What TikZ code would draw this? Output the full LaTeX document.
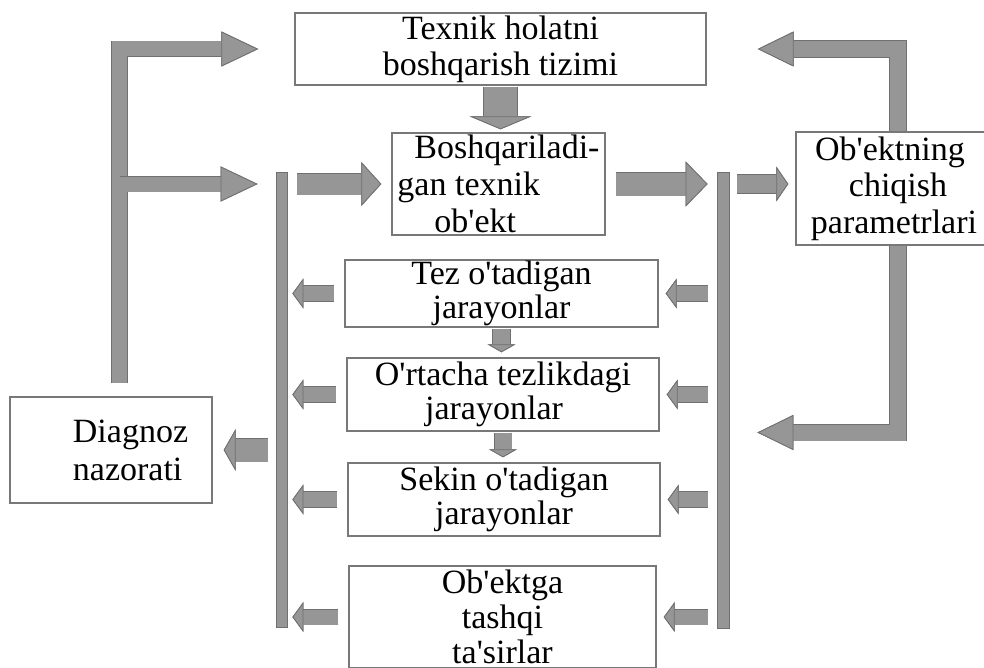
\documentclass[tikz,border=0pt]{standalone}
\usepackage{fontspec}
\setmainfont{Liberation Serif}[Ligatures=TeXOff]
\usetikzlibrary{arrows.meta, calc}
\definecolor{boxline}{RGB}{120,120,120}
\definecolor{arrowfill}{RGB}{150,150,150}
\definecolor{arrowline}{RGB}{112,112,112}

\begin{document}
\begin{tikzpicture}[x=0.75pt, y=-0.75pt,
   every node/.style={font=\fontsize{25.5}{27}\selectfont},
   box/.style={draw=boxline, line width=1.1pt, fill=white, inner sep=0pt, align=center},
   proc/.style={box, font=\fontsize{25.5}{25.5}\selectfont},
   bus/.style={draw=arrowline, line width=0.6pt, fill=arrowfill, inner sep=0pt},
   blk/.style n args={3}{arrowfill, line width=#1,
      preaction={draw=arrowline, line width=#1+1.2pt,
         -{Triangle[length=#2, width=#3, line width=0.6pt, color=arrowline, fill=arrowfill]}},
      -{Triangle[length=#2, width=#3, line width=0.6pt, color=arrowline, fill=arrowfill]}},
   side/.style={blk={11.25pt}{8.25pt}{22.5pt}}]

  \useasboundingbox[fill=white] (0,0) rectangle (984,667);

  % upper row
  \node[box, minimum width=308.25pt, minimum height=54pt] (ctrl) at (500.5,49)
       {Texnik holatni\\boshqarish tizimi};
  \node[box, minimum width=159.75pt, minimum height=76.5pt, align=left,
        font=\fontsize{25.5}{27.5}\selectfont] (object) at (498.5,184)
       {\hspace*{12.75pt}Boshqariladi-\\gan texnik\\\hspace*{27.75pt}ob'ekt};
  \node[box, minimum width=153pt, minimum height=84.75pt,
        font=\fontsize{25.5}{27.5}\selectfont] (output) at (898,188.5)
       {Ob'ektning\hspace*{12pt}\\chiqish\hspace*{12pt}\\parametrlari\hspace*{6pt}};

  % processes inside the object
  \node[proc, minimum width=234.75pt, minimum height=50.25pt] (fast) at (501.5,293.5)
       {Tez o'tadigan\\jarayonlar};
  \node[proc, minimum width=234pt, minimum height=54.75pt] (mid) at (503,394.5)
       {O'rtacha tezlikdagi\\jarayonlar\hspace*{13.5pt}};
  \node[proc, minimum width=234pt, minimum height=54.75pt] (slow) at (504,499.5)
       {Sekin o'tadigan\\jarayonlar};
  \node[box, minimum width=230.25pt, minimum height=76.5pt,
        font=\fontsize{25.5}{26.5}\selectfont] (ext) at (502.5,617)
       {Ob'ektga\\tashqi\\ta'sirlar};

  % diagnosis
  \node[box, minimum width=151.5pt, minimum height=79.5pt, align=left,
        font=\fontsize{25.5}{28.5}\selectfont] (diag) at (111,450)
       {\hspace*{29.25pt}Diagnoz\\\hspace*{29.25pt}nazorati};

  % collecting bars
  \node[bus, minimum width=8.25pt, minimum height=341.25pt] (lbus) at (281.5,399.5) {};
  \node[bus, minimum width=9pt, minimum height=342pt] (rbus) at (723,400) {};

  \coordinate (fbl) at (119.5,383);
  \coordinate (fbr) at (898,432.5);

  % feedback from diagnosis
  \draw[blk={11.25pt}{27.75pt}{26.25pt}, shorten >=27pt] (fbl) |- (ctrl);
  \draw[blk={11.25pt}{27.75pt}{26.25pt}, shorten >=13.5pt] (fbl |- object) -- (lbus.west |- object);

  % main chain
  \draw[blk={24.75pt}{9.75pt}{46.5pt}, shorten <=0.75pt, shorten >=2.25pt]
       (ctrl.south) -- (ctrl.south |- object.north);
  \draw[blk={15.75pt}{15pt}{33pt}, shorten <=7.5pt, shorten >=7.5pt]
       (lbus.east |- object) -- (object.west);
  \draw[blk={17.25pt}{16.5pt}{33.75pt}, shorten <=7.5pt, shorten >=6.75pt]
       (object.east) -- (rbus.west |- object);
  \draw[blk={13.5pt}{9pt}{26.25pt}, shorten <=6pt, shorten >=5.25pt]
       (rbus.east |- object) -- (output.west |- object);

  % feedback from output
  \draw[blk={12pt}{27pt}{26.25pt}, shorten >=38.25pt] (fbr |- output.north) |- (ctrl);
  \draw[blk={12pt}{27pt}{26.25pt}, shorten >=21pt]
       (fbr |- output.south) -- (fbr) -- (rbus.east |- fbr);

  % to diagnosis
  \draw[blk={17.25pt}{9pt}{31.5pt}, shorten <=6pt, shorten >=8.25pt]
       (lbus.west |- diag) -- (diag.east);

  % side arrows
  \foreach \b in {fast,mid,slow,ext}{
    \draw[side, shorten <=7.5pt, shorten >=3.75pt] (\b.west) -- (lbus.east |- \b.west);
    \draw[side, shorten <=6.75pt, shorten >=5.25pt] (rbus.west |- \b.east) -- (\b.east);
  }

  % between processes
  \draw[blk={12.75pt}{6pt}{21pt}, shorten <=0.75pt, shorten >=3.75pt]
       (fast.south) -- (fast.south |- mid.north);
  \draw[blk={12.75pt}{6pt}{21pt}, shorten <=0.75pt, shorten >=3.75pt]
       (mid.south) -- (mid.south |- slow.north);
\end{tikzpicture}
\end{document}
